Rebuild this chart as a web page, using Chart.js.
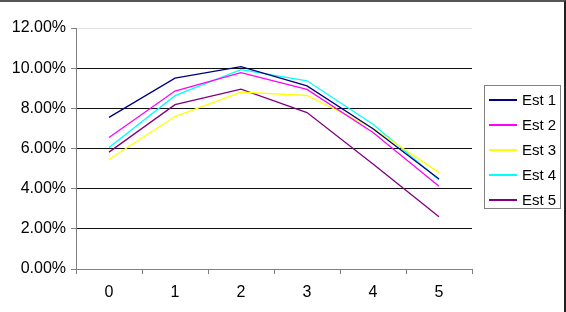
<!DOCTYPE html>
<html lang="en">
<head>
  <meta charset="UTF-8" />
  <title>Est 1-5</title>
  <script src="https://cdn.jsdelivr.net/npm/chart.js"></script>
  <style>
    html, body { margin: 0; padding: 0; background: #fff; }
    .wrap {
      position: relative;
      width: 566px;
      height: 312px;
      box-sizing: border-box;
      border-top: 2px solid #555;
      border-right: 2px solid #222;
      font-family: 'Liberation Sans', Arial, sans-serif;
    }
    #chart { position: absolute; left: 0; top: -2px; }
    /* legend box */
    .legend {
      position: absolute;
      left: 484px;
      top: 83px;
      width: 77px;
      height: 124px;
      border: 1px solid #808080;
      box-sizing: border-box;
    }
    .legend .item {
      position: absolute;
      left: 4px;
      height: 16px;
      font-size: 15px;
      color: #000;
      white-space: nowrap;
    }
    .legend .swatch {
      display: inline-block;
      width: 28px;
      height: 2px;
      vertical-align: middle;
      margin-right: 5px;
      margin-top: -2px;
    }
  </style>
</head>
<body>
  <div class="wrap">
    <canvas id="chart" width="566" height="312"></canvas>
    <div class="legend" id="legend"></div>
  </div>

  <script>
    // categories and series (values in %)
    const categories = ["0", "1", "2", "3", "4", "5"];
    const est1 = [7.55, 9.50, 10.08, 9.12, 6.98, 4.48];
    const est2 = [6.55, 8.86, 9.78, 8.94, 6.80, 4.12];
    const est3 = [5.45, 7.59, 8.81, 8.64, 7.01, 4.80];
    const est4 = [6.05, 8.63, 9.93, 9.37, 7.21, 4.44];
    const est5 = [5.82, 8.18, 8.96, 7.79, 5.23, 2.60];
    const seriesNames = ["Est 1", "Est 2", "Est 3", "Est 4", "Est 5"];
    const seriesColors = ["#000080", "#FF00FF", "#FFFF00", "#00FFFF", "#800080"];
    const yTicks = [0, 2, 4, 6, 8, 10, 12];

    const allSeries = [est1, est2, est3, est4, est5];

    const datasets = allSeries.map((vals, i) => ({
      label: seriesNames[i],
      data: vals,
      borderColor: seriesColors[i],
      backgroundColor: seriesColors[i],
      borderWidth: 1.3,
      pointRadius: 0,
      tension: 0,
      fill: false,
      order: i
    }));

    const ctx = document.getElementById("chart").getContext("2d");
    new Chart(ctx, {
      type: "line",
      data: { labels: categories, datasets },
      options: {
        responsive: false,
        animation: false,
        layout: { padding: { left: 0, right: 94, top: 28, bottom: 0 } },
        plugins: { legend: { display: false }, tooltip: { enabled: false } },
        scales: {
          x: {
            type: "category",
            offset: true,
            grid: {
              offset: true,
              drawOnChartArea: false,
              tickLength: 5,
              tickColor: "#808080"
            },
            border: { color: "#808080", width: 1 },
            ticks: {
              color: "#000",
              padding: 9,
              font: { family: "'Liberation Sans', Arial, sans-serif", size: 16 }
            },
            afterFit: s => { s.height = 43; }
          },
          y: {
            min: 0,
            max: 12,
            afterBuildTicks: s => { s.ticks = yTicks.map(v => ({ value: v })); },
            grid: {
              color: c => c.tick.value === 12 ? "#e4e4e4" : (c.tick.value === 0 ? "rgba(0,0,0,0)" : "#111"),
              tickLength: 5,
              tickColor: "#808080"
            },
            border: { color: "#808080", width: 1 },
            ticks: {
              color: "#000",
              padding: 5,
              font: { family: "'Liberation Sans', Arial, sans-serif", size: 16 },
              callback: v => v.toFixed(2) + "%"
            },
            afterFit: s => { s.width = 76; }
          }
        }
      }
    });

    // HTML legend built from the same series
    const legend = document.getElementById("legend");
    const rowTops = [5, 30, 55, 80, 105];
    seriesNames.forEach((name, i) => {
      const item = document.createElement("div");
      item.className = "item";
      item.style.top = rowTops[i] + "px";
      const sw = document.createElement("span");
      sw.className = "swatch";
      sw.style.background = seriesColors[i];
      item.appendChild(sw);
      item.appendChild(document.createTextNode(name));
      legend.appendChild(item);
    });
  </script>
</body>
</html>
